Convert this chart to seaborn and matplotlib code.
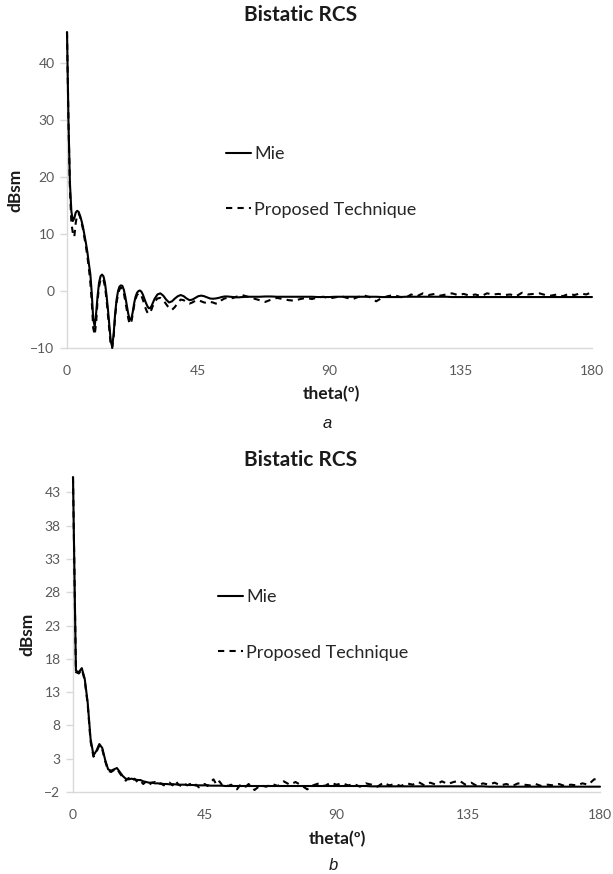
import numpy as np
import pandas as pd
import seaborn as sns
import matplotlib.pyplot as plt
from matplotlib.lines import Line2D

# sampling angles (deg)
theta_a = np.concatenate([np.arange(0, 30.5, 0.5), np.arange(31, 61, 1), np.arange(62, 181, 2)])
theta_b = np.concatenate([np.arange(0, 61, 1), np.arange(62, 181, 2)])

# panel a - Mie
mie_a = [45.5, 30.0, 19.0, 14.0, 12.3, 12.8, 13.8, 14.1, 13.9, 13.2,
         12.3, 11.2, 9.8, 8.4, 6.8, 4.8, 3.0, -0.5, -5.0, -6.2,
         -3.8, -0.8, 1.5, 2.6, 2.9, 2.6, 1.5, -0.5, -3.0, -6.0,
         -8.8, -9.8, -7.5, -4.0, -1.5, 0.0, 0.8, 1.0, 0.9, 0.2,
         -1.0, -2.5, -4.0, -5.0, -5.0, -3.8, -2.2, -1.0, -0.3, 0.0,
         0.1, -0.1, -0.6, -1.3, -2.0, -2.6, -3.0, -3.0, -2.6, -2.0,
         -1.4,
         -0.6, -0.4, -0.8, -1.5, -2.0, -1.8, -1.3, -0.9, -0.7, -0.9,
         -1.3, -1.6, -1.5, -1.2, -0.9, -0.8, -0.9, -1.1, -1.3, -1.35,
         -1.3, -1.2, -1.05, -0.95, -0.95, -1.0, -1.05, -1.1, -1.1, -1.05,
         -1.0, -1.0, -1.0, -0.95, -0.95, -1.0, -1.0, -1.0, -1.0, -1.0,
         -1.0, -1.0, -1.05, -1.05, -1.05, -1.0, -1.0, -1.0, -1.0, -1.0,
         -1.0, -1.0, -1.0, -1.05, -1.05, -1.05, -1.05, -1.0, -1.0, -1.0,
         -1.0, -1.0, -1.0, -1.0, -1.0, -1.05, -1.05, -1.05, -1.05, -1.05,
         -1.05, -1.05, -1.05, -1.05, -1.05, -1.05, -1.05, -1.05, -1.05, -1.05,
         -1.05, -1.05, -1.05, -1.05, -1.05, -1.05, -1.05, -1.05, -1.05, -1.05]

# panel a - proposed technique
prop_a = [45.5, 30.0, 18.0, 12.0, 10.2, 9.5, 12.0, 13.5, 13.6, 13.0,
          12.0, 10.8, 9.3, 7.8, 6.0, 4.0, 1.5, -2.0, -6.5, -7.7,
          -5.5, -1.5, 0.8, 2.0, 2.3, 2.0, 0.8, -1.2, -4.0, -7.0,
          -9.5, -10.0, -8.0, -4.5, -2.0, -0.6, 0.3, 0.6, 0.4, -0.4,
          -1.8, -3.3, -4.8, -5.8, -5.6, -4.2, -2.6, -1.4, -0.7, -0.4,
          -0.4, -0.8, -1.5, -2.3, -3.1, -3.7, -4.0, -3.8, -3.2, -2.5,
          -1.9,
          -1.3, -1.2, -1.6, -2.3, -3.0, -3.3, -2.8, -2.0, -1.5, -1.6,
          -2.0, -2.2, -2.0, -1.7, -1.6, -1.8, -2.0, -2.1, -1.9, -2.0,
          -2.2, -2.1, -1.6, -1.3, -1.2, -1.3, -1.2, -1.0, -0.9, -0.7,
          -1.0, -1.3, -1.6, -1.9, -1.5, -1.2, -1.4, -1.6, -1.7, -1.4,
          -1.2, -1.4, -1.1, -1.0, -1.3, -1.1, -0.9, -1.2, -1.4, -1.0,
          -0.8, -1.1, -1.8, -1.2, -0.9, -0.7, -1.0, -1.2, -0.6, -0.9,
          -0.4, -0.7, -0.5, -0.8, -0.6, -0.4, -0.7, -0.5, -0.8, -0.6,
          -0.9, -0.4, -0.6, -0.5, -0.7, -0.6, -0.9, -0.3, -0.6, -0.5,
          -0.4, -0.7, -0.8, -0.6, -0.9, -0.5, -0.7, -0.4, -0.6, -0.2]

# panel b - Mie
mie_b = [45.3, 16.2, 16.0, 16.6, 15.0, 11.5, 6.0, 3.5, 4.2, 5.2,
         4.6, 2.8, 1.4, 1.2, 1.4, 1.6, 1.0, 0.4, 0.0, -0.1,
         0.0, -0.1, -0.2, -0.2, -0.4, -0.5, -0.6, -0.6, -0.7, -0.7,
         -0.75, -0.8, -0.8, -0.85, -0.85, -0.85, -0.9, -0.9, -0.9, -0.95,
         -0.95, -0.95, -1.0, -1.0, -1.0, -1.0, -1.0, -1.05, -1.05, -1.05,
         -1.05, -1.05, -1.1, -1.1, -1.1, -1.1, -1.1, -1.1, -1.1, -1.1,
         -1.1,
         -1.1, -1.1, -1.1, -1.1, -1.1, -1.1, -1.1, -1.1, -1.1, -1.1,
         -1.1, -1.1, -1.1, -1.1, -1.1, -1.1, -1.1, -1.1, -1.1, -1.1,
         -1.15, -1.15, -1.15, -1.15, -1.15, -1.15, -1.15, -1.15, -1.15, -1.15,
         -1.15, -1.15, -1.15, -1.15, -1.15, -1.15, -1.15, -1.15, -1.15, -1.15,
         -1.2, -1.2, -1.2, -1.2, -1.2, -1.2, -1.2, -1.2, -1.2, -1.2,
         -1.2, -1.2, -1.2, -1.2, -1.2, -1.2, -1.2, -1.2, -1.2, -1.2]

# panel b - proposed technique
prop_b = [45.3, 16.0, 15.8, 16.4, 14.8, 11.2, 5.6, 3.3, 4.0, 5.0,
          4.4, 2.6, 1.2, 1.0, 1.3, 1.5, 0.8, 0.2, -0.3, 0.1,
          -0.4, 0.0, -0.5, -0.3, -0.8, -0.4, -0.9, -0.6, -0.5, -0.9,
          -0.7, -1.0, -0.8, -0.6, -1.0, -0.3, -0.9, -1.1, -0.7, -1.0,
          -0.8, -1.2, -0.9, -1.3, -1.0, -0.8, -1.1, -0.5, -0.1, -0.9,
          -0.4, -1.0, -0.8, -1.1, -0.9, -1.3, -1.6, -1.0, -0.9, -1.2,
          -0.8,
          -1.7, -1.0, -1.2, -0.8, -1.1, -0.4, -0.9, -0.5, -1.0, -1.6,
          -1.0, -0.7, -1.1, -0.6, -0.9, -0.7, -1.0, -0.8, -1.2, -0.7,
          -0.9, -1.2, -0.6, -1.0, -0.8, -1.1, -0.7, -0.9, -0.5, -1.0,
          -0.6, -0.9, -0.4, -0.8, -0.5, -0.3, -0.9, -0.6, -1.1, -0.7,
          -0.9, -0.6, -1.0, -0.8, -1.1, -0.7, -0.9, -1.0, -0.8, -1.1,
          -0.9, -1.0, -0.8, -1.1, -0.9, -1.0, -0.7, -0.9, -0.1, 0.0]

x_ticks = [0, 45, 90, 135, 180]
y_ticks_a = [-10, 0, 10, 20, 30, 40]
y_ticks_b = [-2, 3, 8, 13, 18, 23, 28, 33, 38, 43]
labels = ['Mie', 'Proposed Technique']

sns.set_theme(style='white')
plt.rcParams['font.family'] = ['Lato', 'DejaVu Sans']

W, H = 613, 874
fig = plt.figure(figsize=(W / 100, H / 100), dpi=100)

DASH = (3, 2.5)


def box(x0, y0, x1, y1):
    # pixel box -> figure fraction [left, bottom, width, height]
    return [x0 / W, 1 - y1 / H, (x1 - x0) / W, (y1 - y0) / H]


def ftext(x, y, s, **kw):
    fig.text(x / W, 1 - y / H, s, ha='center', va='center', **kw)


def panel(rect, theta, mie, prop, ylim, yticks, leg_xy):
    ax = fig.add_axes(rect)
    df = pd.DataFrame({'theta': np.concatenate([theta, theta]),
                       'dBsm': list(mie) + list(prop),
                       'method': [labels[0]] * len(theta) + [labels[1]] * len(theta)})
    sns.lineplot(data=df, x='theta', y='dBsm', style='method',
                 dashes={labels[0]: '', labels[1]: DASH},
                 color='black', linewidth=1.5, estimator=None, sort=False,
                 legend=False, ax=ax)
    for ln in ax.get_lines():
        ln.set_clip_on(False)
        ln.set_zorder(4)
    ax.set_xlim(0, 180)
    ax.set_ylim(*ylim)
    ax.set_xticks(x_ticks)
    ax.set_yticks(yticks)
    ax.set_xlabel('')
    ax.set_ylabel('')
    for s in ['top', 'right']:
        ax.spines[s].set_visible(False)
    for s in ['left', 'bottom']:
        ax.spines[s].set_color('#d9d9d9')
        ax.spines[s].set_linewidth(1.0)
        ax.spines[s].set_zorder(1)
    ax.tick_params(axis='x', length=0, pad=12, labelsize=10, labelcolor='#595959')
    ax.tick_params(axis='y', length=5, width=1, color='#d9d9d9', pad=4,
                   labelsize=10, labelcolor='#595959', left=True)
    handles = [Line2D([], [], color='black', lw=1.5),
               Line2D([], [], color='black', lw=1.5, ls=(0, DASH))]
    ax.legend(handles, labels, loc='upper left',
              bbox_to_anchor=(leg_xy[0] / W, 1 - leg_xy[1] / H),
              bbox_transform=fig.transFigure, frameon=False, fontsize=13,
              handlelength=1.4, handletextpad=0.15, labelspacing=2.2,
              borderpad=0, borderaxespad=0, labelcolor='#262626')
    return ax


ax_a = panel(box(67, 32, 592, 348), theta_a, mie_a, prop_a, (-10, 45.5), y_ticks_a, (226, 146))
ax_b = panel(box(73, 477, 600, 792), theta_b, mie_b, prop_b, (-2, 45.3), y_ticks_b, (218, 589))

# titles and labels
ftext(301, 15, 'Bistatic RCS', fontsize=15, fontweight='bold', color='#1a1a1a')
ftext(301, 460, 'Bistatic RCS', fontsize=15, fontweight='bold', color='#1a1a1a')
ftext(15, 190, 'dBsm', fontsize=12.5, fontweight='bold', rotation=90, color='#1a1a1a')
ftext(27, 634, 'dBsm', fontsize=12.5, fontweight='bold', rotation=90, color='#1a1a1a')
ftext(331, 394, 'theta(º)', fontsize=12.5, fontweight='bold', color='#1a1a1a')
ftext(337, 839, 'theta(º)', fontsize=12.5, fontweight='bold', color='#1a1a1a')
ftext(327, 424, 'a', fontsize=12, style='italic', family='Liberation Sans', color='#1a1a1a')
ftext(333, 866, 'b', fontsize=12, style='italic', family='Liberation Sans', color='#1a1a1a')

fig.savefig('out.png', dpi=100, facecolor='white')
